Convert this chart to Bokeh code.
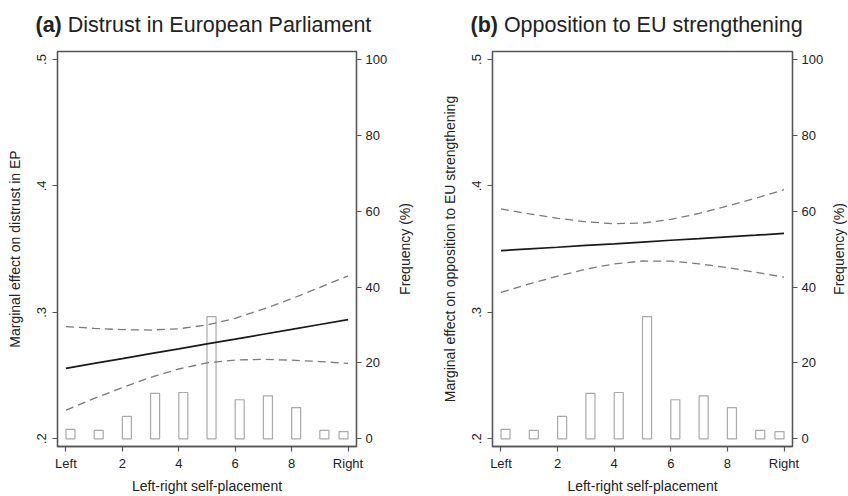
from bokeh.plotting import figure
from bokeh.models import Range1d, LinearAxis, FixedTicker, Title
from bokeh.layouts import row
from bokeh.embed import file_html
from bokeh.resources import INLINE

# ---- data ----
x_grid = [0, 1, 2, 3, 4, 5, 6, 7, 8, 9, 10]

a_est = [0.2557, 0.2596, 0.2634, 0.2673, 0.2711, 0.2750, 0.2788, 0.2827, 0.2865, 0.2904, 0.2942]
a_upper = [0.2887, 0.2873, 0.2863, 0.2860, 0.2870, 0.2900, 0.2953, 0.3026, 0.3108, 0.3197, 0.3288]
a_lower = [0.2227, 0.2319, 0.2405, 0.2486, 0.2552, 0.2600, 0.2623, 0.2628, 0.2622, 0.2611, 0.2596]

b_est = [0.3488, 0.3502, 0.3515, 0.3529, 0.3542, 0.3556, 0.3570, 0.3583, 0.3597, 0.3610, 0.3624]
b_upper = [0.3818, 0.3779, 0.3744, 0.3716, 0.3701, 0.3706, 0.3735, 0.3782, 0.3840, 0.3903, 0.3970]
b_lower = [0.3158, 0.3225, 0.3286, 0.3342, 0.3383, 0.3406, 0.3405, 0.3384, 0.3354, 0.3317, 0.3278]

bar_x = [0.16, 1.16, 2.16, 3.16, 4.16, 5.16, 6.16, 7.16, 8.16, 9.16, 9.84]
bar_freq = [2.5, 2.2, 5.9, 12.0, 12.2, 32.2, 10.3, 11.3, 8.2, 2.2, 1.9]

x_ticks = [0, 2, 4, 6, 8, 10]
x_tick_labels = ["Left", "2", "4", "6", "8", "Right"]
y_ticks = [0.2, 0.3, 0.4, 0.5]
y_tick_labels = [".2", ".3", ".4", ".5"]
freq_ticks = [0, 20, 40, 60, 80, 100]
freq_title = "Frequency (%)"

FONT = "Liberation Sans"
AXC = "#555555"
TXT = "#222222"
H = 496
TOP = 51
BOTTOM = 49


def style_axis(ax):
    ax.axis_line_color = AXC
    ax.axis_line_width = 1.3
    ax.major_tick_line_color = AXC
    ax.major_tick_line_width = 1.2
    ax.major_tick_out = 5
    ax.major_tick_in = 0
    ax.minor_tick_out = 0
    ax.minor_tick_in = 0
    ax.major_label_text_font = FONT
    ax.major_label_text_font_size = "13px"
    ax.major_label_text_color = TXT
    ax.axis_label_text_font = FONT
    ax.axis_label_text_font_size = "14px"
    ax.axis_label_text_font_style = "normal"
    ax.axis_label_text_color = TXT


def make_panel(letter, title, ylabel, est, upper, lower, width, border_left, border_right):
    p = figure(width=width, height=H,
               x_range=Range1d(-0.3, 10.3), y_range=Range1d(0.1939, 0.5063),
               output_backend="svg", toolbar_location=None,
               min_border_left=border_left, min_border_right=border_right,
               min_border_top=TOP, min_border_bottom=40)
    p.title.visible = False
    p.grid.visible = False
    p.outline_line_color = AXC
    p.outline_line_width = 1.3
    p.background_fill_color = "white"
    p.border_fill_color = "white"
    p.extra_y_ranges = {"freq": Range1d(-2.03, 102.1)}

    p.vbar(x=bar_x, top=bar_freq, bottom=0, width=0.32, fill_color="white",
           line_color="#a9a9a9", line_width=1.2, y_range_name="freq")
    p.line(x_grid, upper, line_dash="8 5", line_color="#7a7a7a", line_width=1.3)
    p.line(x_grid, lower, line_dash="8 5", line_color="#7a7a7a", line_width=1.3)
    p.line(x_grid, est, line_color="#1a1a1a", line_width=1.7)

    xa = p.xaxis[0]
    xa.ticker = FixedTicker(ticks=x_ticks)
    xa.major_label_overrides = {t: s for t, s in zip(x_ticks, x_tick_labels)}
    xa.axis_label = "Left-right self-placement"
    style_axis(xa)
    xa.major_label_standoff = 4
    xa.axis_label_standoff = 4

    ya = p.yaxis[0]
    ya.ticker = FixedTicker(ticks=y_ticks)
    ya.major_label_overrides = {t: s for t, s in zip(y_ticks, y_tick_labels)}
    ya.major_label_orientation = "vertical"
    ya.axis_label = ylabel
    style_axis(ya)
    ya.major_label_standoff = 6
    ya.axis_label_standoff = 12

    ra = LinearAxis(y_range_name="freq", ticker=FixedTicker(ticks=freq_ticks))
    style_axis(ra)
    ra.major_label_standoff = 4
    p.add_layout(ra, "right")

    lw = {"a": 32.3, "b": 33.4}[letter]
    t1 = Title(text="(" + letter + ")", text_font=FONT, text_font_size="21.5px",
               text_font_style="bold", text_color=TXT, align="left", offset=-22,
               vertical_align="top", standoff=24.5)
    t2 = Title(text=title, text_font=FONT, text_font_size="21.5px",
               text_font_style="normal", text_color=TXT, align="left", offset=-22 + lw,
               vertical_align="bottom", standoff=-73.5)
    p.add_layout(t1, "above")
    p.add_layout(t2, "above")
    return p


def make_side_title(width, border_left, standoff):
    # narrow strip carrying the right-hand axis title, reading bottom-to-top
    s = figure(width=width, height=H, x_axis_type=None, y_axis_type=None,
               output_backend="svg", toolbar_location=None,
               min_border_left=border_left, min_border_right=0,
               min_border_top=TOP, min_border_bottom=BOTTOM)
    s.title.visible = False
    s.grid.visible = False
    s.outline_line_color = None
    s.background_fill_color = "white"
    s.border_fill_color = "white"
    t = Title(text=freq_title, text_font=FONT, text_font_size="14px",
              text_font_style="normal", text_color=TXT, align="center",
              vertical_align="bottom", standoff=standoff)
    s.add_layout(t, "left")
    return s


p1 = make_panel("a", "Distrust in European Parliament",
                "Marginal effect on distrust in EP", a_est, a_upper, a_lower, 390, 57, 34)
s1 = make_side_title(32, 26, 9)
p2 = make_panel("b", "Opposition to EU strengthening",
                "Marginal effect on opposition to EU strengthening", b_est, b_upper, b_lower,
                406, 70, 36)
s2 = make_side_title(20, 18, 0)

p = row(p1, s1, p2, s2)
open("out.html", "w").write(file_html(p, INLINE))
